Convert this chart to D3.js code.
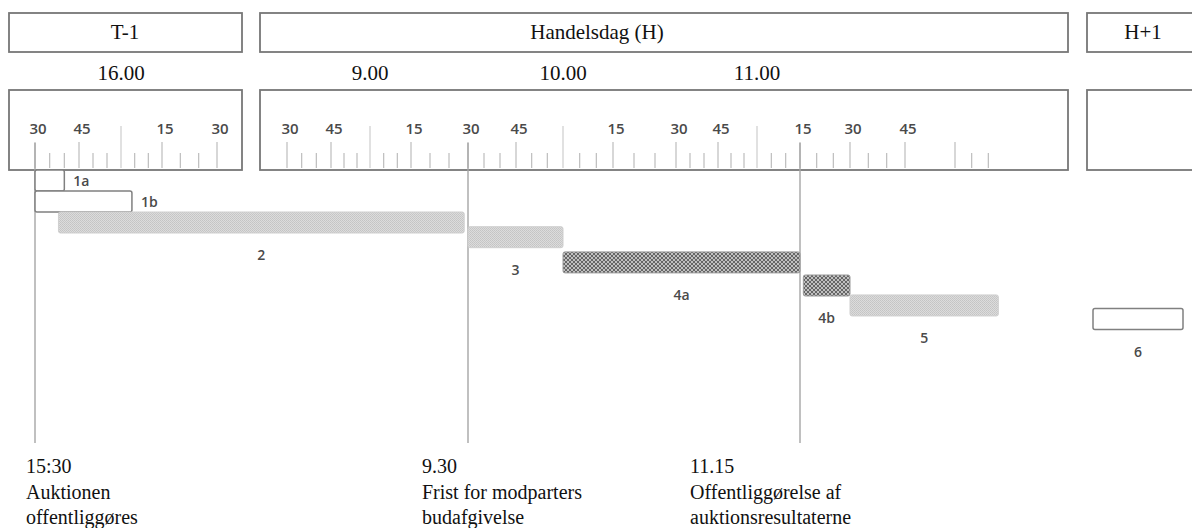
<!DOCTYPE html>
<html><head><meta charset="utf-8">
<script src="https://cdn.jsdelivr.net/npm/d3@7"></script>
<style>body{margin:0;background:#fff}svg{display:block}</style>
</head><body><svg id="c" width="1192" height="528"></svg>
<script>
// ---------- data ----------
const panelNames = ["T-1", "H", "H+1"];
const panelTitles = ["T-1", "Handelsdag (H)", "H+1"];
const hourLabelTimes = ["T-1 16:00", "H 9:00", "H 10:00", "H 11:00"];
const hourLabelTexts = ["16.00", "9.00", "10.00", "11.00"];
const rulerLabelTimes = ["T-1 15:30","T-1 15:45","T-1 16:15","T-1 16:30",
  "H 8:30","H 8:45","H 9:15","H 9:30","H 9:45","H 10:15","H 10:30","H 10:45","H 11:15","H 11:30","H 11:45"];
const tickTimesT1 = ["15:30","15:35","15:40","15:45","15:50","15:55","16:00","16:05","16:10","16:15","16:20","16:25","16:30"];
const tickTimesH = ["8:30","8:35","8:40","8:45","8:50","8:55","9:00","9:05","9:10","9:15","9:20","9:25","9:30","9:35","9:40","9:45","9:50","9:55",
  "10:00","10:05","10:10","10:15","10:20","10:25","10:30","10:35","10:40","10:45","10:50","10:55",
  "11:00","11:05","11:10","11:15","11:20","11:25","11:30","11:35","11:40","11:45","12:00","12:05","12:10"];
const tallTicks = ["T-1 16:00", "H 9:00", "H 10:00", "H 11:00"];

const barNames  = ["1a", "1b", "2", "3", "4a", "4b", "5", "6"];
const barStarts = ["T-1 15:30","T-1 15:30","T-1 15:38","H 9:30","H 10:00","H 11:16","H 11:30","H+1 9:00"];
const barEnds   = ["T-1 15:40","T-1 16:04","H 9:29","H 10:00","H 11:15","H 11:30","H 12:13","H+1 9:30"];
const barRows   = [0, 1, 2, 2.7, 3.9, 5, 5.95, 6.6];
const barKinds  = ["outline","outline","light","light","dark","dark","light","outline"];
const labelSides = ["right","right","below","below","below","below","below","below"];

const milestoneTimes = ["T-1 15:30", "H 9:30", "H 11:15"];
const milestoneTexts = [
  ["15:30", "Auktionen", "offentliggøres"],
  ["9.30", "Frist for modparters", "budafgivelse"],
  ["11.15", "Offentliggørelse af", "auktionsresultaterne"]
];

// ---------- layout ----------
const panelX = [[9, 242], [260, 1068], [1087, 1199]];
const titleX = [125, 597, 1143];
const milestoneTextX = [26, 422, 690];
const serif = "'Liberation Serif', 'Times New Roman', serif";
const sans = "'Open Sans', 'DejaVu Sans', sans-serif";

function mins(s) { const [h, m] = s.split(":").map(Number); return h * 60 + m; }
const xScales = {
  "T-1": d3.scaleLinear().domain(["15:30","15:45","16:00","16:15","16:30"].map(mins))
           .range([35, 79, 121, 162, 217]),
  "H": d3.scaleLinear().domain(["8:30","8:45","9:00","9:15","9:30","9:45","10:00","10:15","10:30","10:45","11:00","11:15","11:30","11:45","12:00"].map(mins))
           .range([287, 331, 370, 411, 468, 516, 563, 613, 676, 718, 757, 800, 850, 905, 955]),
  "H+1": d3.scaleLinear().domain(["9:00","9:30"].map(mins)).range([1093, 1183])
};
function X(s) { const [d, t] = s.split(" "); return xScales[d](mins(t)); }
const yRow = d3.scaleLinear().domain([0, 1]).range([170, 191]);
const barH = 21;

const svg = d3.select("#c");
const defs = svg.append("defs");
const pl = defs.append("pattern").attr("id", "light").attr("patternUnits", "userSpaceOnUse").attr("width", 2).attr("height", 2);
pl.append("rect").attr("width", 2).attr("height", 2).attr("fill", "#dcdcdc");
pl.append("rect").attr("width", 1).attr("height", 1).attr("fill", "#c4c4c4");
pl.append("rect").attr("x", 1).attr("y", 1).attr("width", 1).attr("height", 1).attr("fill", "#c8c8c8");
const pd = defs.append("pattern").attr("id", "dark").attr("patternUnits", "userSpaceOnUse").attr("width", 4).attr("height", 4);
pd.append("rect").attr("width", 4).attr("height", 4).attr("fill", "#c0c0c0");
pd.append("path").attr("d", "M0,0 L4,4 M4,0 L0,4").attr("stroke", "#666").attr("stroke-width", 1);

// panel title boxes and ruler boxes
panelNames.forEach((p, i) => {
  const [x0, x1] = panelX[i];
  svg.append("rect").attr("x", x0).attr("y", 13).attr("width", x1 - x0).attr("height", 39)
    .attr("fill", "#fff").attr("stroke", "#777").attr("stroke-width", 1.8);
  svg.append("text").attr("x", titleX[i]).attr("y", 39).attr("text-anchor", "middle")
    .attr("font-family", serif).attr("font-size", 21).attr("fill", "#111").text(panelTitles[i]);
  svg.append("rect").attr("x", x0).attr("y", 90).attr("width", x1 - x0).attr("height", 80)
    .attr("fill", "#fff").attr("stroke", "#777").attr("stroke-width", 1.8);
});

// hour labels
svg.selectAll("text.hour").data(hourLabelTimes).join("text").attr("class", "hour")
  .attr("x", d => X(d)).attr("y", 80).attr("text-anchor", "middle")
  .attr("font-family", serif).attr("font-size", 21).attr("fill", "#111")
  .text((d, i) => hourLabelTexts[i]);

// ruler ticks
const ticks = tickTimesT1.map(t => "T-1 " + t).concat(tickTimesH.map(t => "H " + t));
svg.selectAll("line.tick").data(ticks).join("line").attr("class", "tick")
  .attr("x1", d => X(d)).attr("x2", d => X(d))
  .attr("y1", d => tallTicks.includes(d) ? 126 : (mins(d.split(" ")[1]) % 15 === 0 ? 142 : 153))
  .attr("y2", 168)
  .attr("stroke", d => tallTicks.includes(d) ? "#cdcdcd" : "#bdbdbd").attr("stroke-width", 1.2);

// ruler labels
svg.selectAll("text.rl").data(rulerLabelTimes).join("text").attr("class", "rl")
  .attr("x", d => X(d) + 3).attr("y", 133.5).attr("text-anchor", "middle")
  .attr("font-family", sans).attr("font-size", 15).attr("font-weight", 600).attr("fill", "#4a4a4a")
  .text(d => d.split(":")[1]);

// milestone lines
svg.selectAll("line.ms").data(milestoneTimes).join("line").attr("class", "ms")
  .attr("x1", d => X(d)).attr("x2", d => X(d)).attr("y1", 143).attr("y2", 443)
  .attr("stroke", "#a5a5a5").attr("stroke-width", 1.4);

// bars
const bars = barNames.map((n, i) => ({ name: n, x0: X(barStarts[i]), x1: X(barEnds[i]), row: barRows[i], kind: barKinds[i], side: labelSides[i] }));
svg.selectAll("rect.bar").data(bars).join("rect").attr("class", "bar")
  .attr("x", d => d.x0).attr("y", d => yRow(d.row)).attr("width", d => d.x1 - d.x0).attr("height", barH)
  .attr("rx", 2)
  .attr("fill", d => d.kind === "outline" ? "#fff" : d.kind === "light" ? "url(#light)" : "url(#dark)")
  .attr("stroke", d => d.kind === "outline" ? "#808080" : d.kind === "light" ? "#cfcfcf" : "#9a9a9a")
  .attr("stroke-width", d => d.kind === "outline" ? 1.5 : 1);

svg.selectAll("text.bl").data(bars).join("text").attr("class", "bl")
  .attr("x", d => d.side === "right" ? d.x1 + 9 : (d.x0 + d.x1) / 2)
  .attr("y", d => d.side === "right" ? yRow(d.row) + barH / 2 + 5 : yRow(d.row) + barH + 27)
  .attr("text-anchor", d => d.side === "right" ? "start" : "middle")
  .attr("font-family", sans).attr("font-size", 14).attr("font-weight", 600).attr("fill", "#4a4a4a")
  .text(d => d.name);

// milestone texts
milestoneTexts.forEach((lines, i) => {
  svg.append("g").selectAll("text").data(lines).join("text")
    .attr("x", milestoneTextX[i]).attr("y", (d, j) => 473 + j * 25.5)
    .attr("font-family", serif).attr("font-size", 20).attr("fill", "#111")
    .text(d => d);
});
</script>
</body></html>
